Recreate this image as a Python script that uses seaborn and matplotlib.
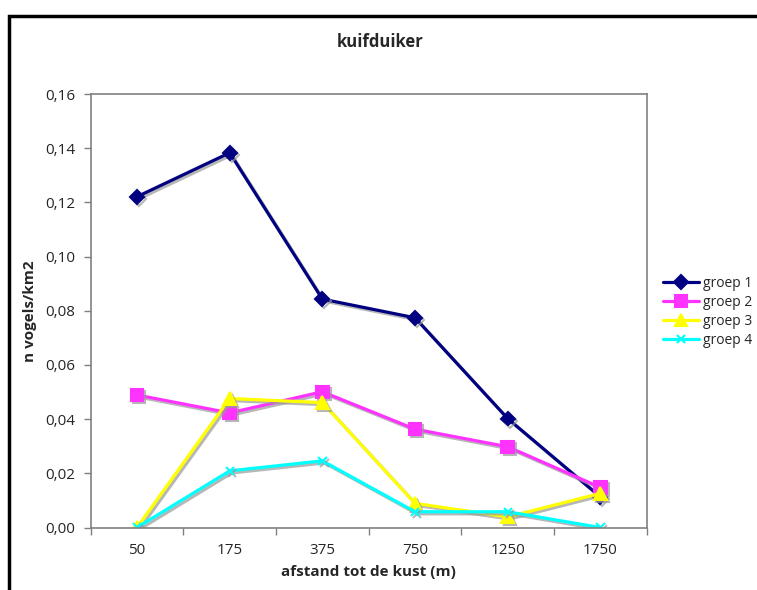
import seaborn as sns
import pandas as pd
import matplotlib.pyplot as plt
import matplotlib.patheffects as pe
from matplotlib.patches import Rectangle

# afstand tot de kust (m)
afstand = ['50', '175', '375', '750', '1250', '1750']
groep_1 = [0.1221, 0.1383, 0.0843, 0.0774, 0.0402, 0.0113]
groep_2 = [0.0489, 0.0423, 0.0501, 0.0363, 0.0298, 0.0148]
groep_3 = [0.0000, 0.0476, 0.0461, 0.0089, 0.0039, 0.0126]
groep_4 = [0.0000, 0.0209, 0.0246, 0.0058, 0.0058, 0.0000]
groepen = ['groep 1', 'groep 2', 'groep 3', 'groep 4']

df = pd.DataFrame({
    'afstand': afstand * 4,
    'dichtheid': groep_1 + groep_2 + groep_3 + groep_4,
    'groep': [g for g in groepen for _ in afstand],
})

sns.set_style('white')
plt.rcParams['font.family'] = ['Open Sans', 'DejaVu Sans']

fig = plt.figure(figsize=(7.57, 5.90), dpi=100)
ax = fig.add_axes([90.7 / 757, 1 - 527.5 / 590, 556 / 757, 433.5 / 590])

palette = {'groep 1': '#000080', 'groep 2': '#ff33ff', 'groep 3': '#ffff00', 'groep 4': '#00ffff'}
markers = {'groep 1': 'D', 'groep 2': 's', 'groep 3': '^', 'groep 4': 'x'}
sizes = {'groep 1': 7, 'groep 2': 9, 'groep 3': 9, 'groep 4': 6}

for g in groepen:
    sns.lineplot(data=df[df['groep'] == g], x='afstand', y='dichtheid', ax=ax,
                 color=palette[g], marker=markers[g], markersize=sizes[g],
                 markeredgecolor=palette[g], markeredgewidth=1.5,
                 linewidth=2.3, label=g, sort=False)

shadow = [pe.SimpleLineShadow(offset=(1.5, -1.5), shadow_color='#999999', alpha=0.7), pe.Normal()]
for line in ax.get_lines():
    line.set_path_effects(shadow)

ax.set_xlim(-0.5, 5.5)
ax.set_ylim(0, 0.16)
ax.set_yticks([i * 0.02 for i in range(9)])
ax.set_yticklabels([f'{i * 0.02:.2f}'.replace('.', ',') for i in range(9)], fontsize=11)
ax.set_xticks(range(len(afstand)))
ax.set_xticklabels(afstand, fontsize=11)
ax.set_xticks([i + 0.5 for i in range(-1, 6)], minor=True)
ax.tick_params(axis='x', which='major', length=0, pad=11)
ax.tick_params(axis='x', which='minor', length=5, color='#808080', width=1, direction='out', bottom=True)
ax.tick_params(axis='y', length=5, color='#808080', width=1, direction='out', left=True, pad=6)
for s in ax.spines.values():
    s.set_color('#808080')
    s.set_linewidth(1.2)

ax.set_xlabel('afstand tot de kust (m)', fontsize=11, fontweight='bold', labelpad=5)
ax.set_ylabel('n vogels/km2', fontsize=11, fontweight='bold', labelpad=6)
fig.text(380 / 757, 1 - 42 / 590, 'kuifduiker', ha='center', va='center',
         fontsize=12, fontweight='bold')

leg = ax.legend(loc='center left', bbox_to_anchor=(657 / 757, 1 - 312 / 590),
                bbox_transform=fig.transFigure, frameon=False, fontsize=10,
                borderaxespad=0, handlelength=2.6, handletextpad=0.3, labelspacing=0.3)
for h in leg.legend_handles:
    h.set_path_effects([])

# outer chart frame
fig.patches.append(Rectangle((9 / 757, -0.1), 1.2, 1 - 16 / 590 + 0.1,
                             transform=fig.transFigure, fill=False,
                             edgecolor='black', linewidth=2.5))

fig.savefig('out.png', dpi=100)
